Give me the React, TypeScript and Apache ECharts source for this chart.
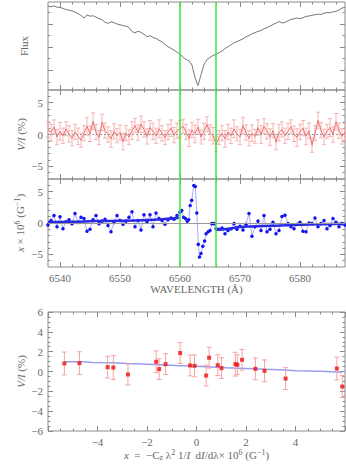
import React, { useEffect, useRef } from 'react';
import * as echarts from 'echarts';

// ---- wavelength sampling (Å) ----
const LAMBDA_START = 6538.0;
const LAMBDA_STEP = 0.5;
const LAMBDA_MIN = 6538;
const LAMBDA_MAX = 6587.5;
const greenLines = [6560, 6566];

// ---- panel 1: flux (6538.0 ... 6587.5, step 0.5) ----
const flux = [
  0.955, 0.950, 0.958, 0.946, 0.944, 0.936, 0.925, 0.920, 0.914, 0.903,
  0.890, 0.875, 0.852, 0.880, 0.868, 0.872, 0.860, 0.848, 0.838, 0.815,
  0.806, 0.820, 0.812, 0.800, 0.795, 0.786, 0.782, 0.770, 0.735, 0.724,
  0.738, 0.728, 0.712, 0.690, 0.700, 0.684, 0.676, 0.660, 0.646, 0.622,
  0.604, 0.590, 0.574, 0.556, 0.540, 0.512, 0.494, 0.482, 0.445, 0.335,
  0.268, 0.360, 0.450, 0.492, 0.512, 0.528, 0.538, 0.552, 0.566, 0.588,
  0.604, 0.620, 0.638, 0.648, 0.660, 0.672, 0.690, 0.700, 0.716, 0.725,
  0.738, 0.742, 0.760, 0.768, 0.782, 0.796, 0.808, 0.822, 0.810, 0.814,
  0.828, 0.840, 0.846, 0.852, 0.848, 0.854, 0.866, 0.870, 0.876, 0.880,
  0.886, 0.882, 0.894, 0.900, 0.898, 0.906, 0.910, 0.922, 0.938, 0.946,
];

// ---- panel 2: V/I (%) with errors (same sampling) ----
const stokesV = [
  0.8, 0.3, 1.2, -0.4, 0.5, -0.2, 0.9, 0.1, -0.6, 0.4,
  -0.3, -0.9, 0.2, 1.3, 0.1, 2.1, 0.4, -0.5, 1.9, 0.6,
  0.0, -0.7, 0.5, -0.2, 0.3, -1.1, 0.2, -0.4, 0.6, 1.4,
  0.3, 1.6, 0.8, -0.3, 1.1, 0.5, -0.2, 0.9, 0.2, -0.5,
  0.4, 1.0, -0.1, 0.6, 0.9, 1.3, 0.4, -0.6, 0.7, 0.1,
  1.2, -0.4, 0.5, 1.6, 0.3, -0.2, -1.5, -0.5, 0.2, -0.7,
  0.4, -0.2, 0.9, 0.1, -0.4, 1.4, 0.3, -0.6, 0.2, -0.3,
  1.1, 0.0, 1.3, 0.5, -0.4, 0.6, -1.2, 0.3, 0.8, -0.2,
  0.5, 1.2, 0.1, -0.5, 0.4, 1.0, -0.3, 0.6, -1.7, 0.2,
  2.2, 0.7, -0.4, 0.5, 1.1, 0.0, 2.0, 0.6, -0.3, 0.4,
];
const stokesVErr = [
  1.2, 1.3, 1.1, 1.2, 1.4, 1.2, 1.1, 1.3, 1.2, 1.2,
  1.3, 1.1, 1.2, 1.4, 1.2, 1.3, 1.2, 1.1, 1.3, 1.2,
  1.2, 1.3, 1.2, 1.1, 1.2, 1.3, 1.2, 1.2, 1.4, 1.1,
  1.2, 1.3, 1.2, 1.2, 1.1, 1.3, 1.2, 1.4, 1.2, 1.1,
  1.2, 1.3, 1.2, 1.2, 1.3, 1.1, 1.2, 1.3, 1.2, 1.4,
  1.2, 1.1, 1.3, 1.2, 1.2, 1.3, 1.2, 1.1, 1.2, 1.3,
  1.2, 1.2, 1.4, 1.1, 1.2, 1.3, 1.2, 1.2, 1.3, 1.1,
  1.2, 1.4, 1.2, 1.2, 1.3, 1.1, 1.2, 1.3, 1.2, 1.2,
  1.3, 1.1, 1.2, 1.4, 1.2, 1.2, 1.3, 1.2, 1.1, 1.2,
  1.3, 1.2, 1.2, 1.1, 1.4, 1.2, 1.3, 1.2, 1.2, 1.3,
];

// ---- panel 3: x × 10^6 (G^-1) ----
const xLeftStart = 6538.0; // step 0.5, up to 6559.5
const xLeft = [
  -0.3, 0.4, 1.2, -0.6, 1.0, -0.9, 0.2, 0.5, -0.1, 1.5,
  0.1, 0.9, 0.7, -1.3, -1.0, 0.5, 1.2, -0.1, 0.3, 0.6,
  -0.4, -1.4, 0.1, 1.2, 0.4, -0.2, 0.3, 0.9, 1.8, -0.6,
  0.4, -1.1, 1.3, 0.2, 1.3, -0.6, 1.6, 0.7, 0.4, -0.2,
  0.5, 0.8, 0.6, 1.2,
];
const coreLambda = [
  6560.0, 6560.3, 6560.6, 6560.9, 6561.2, 6561.45, 6561.7, 6561.95, 6562.3, 6562.55,
  6562.8, 6563.05, 6563.25, 6563.5, 6563.8, 6564.1, 6564.35, 6564.7, 6565.0, 6565.3, 6565.7,
];
const coreX = [
  1.7, 2.0, 0.9, 0.7, 0.3, 0.5, 2.8, 3.6, 5.95, 5.8,
  1.6, -3.4, -5.4, -4.85, -3.7, -2.85, -1.7, -1.4, -1.2, -0.1, -0.1,
];
const xRightStart = 6566.0; // step 0.5, up to 6587.5
const xRight = [
  -0.9, -1.0, -0.8, -1.7, -1.2, -0.9, -0.1, -1.0, -0.5, -1.1,
  -0.2, 1.5, -2.1, -0.6, 0.3, -1.2, 1.2, -1.4, -1.0, 0.1,
  -1.7, -1.2, 1.05, 1.25, -0.1, -0.6, -0.9, -0.2, 0.1, -1.3,
  -1.4, 0.0, -0.1, 0.8, -0.6, -0.1, 0.4, -0.9, -0.4, 0.7,
  0.1, -0.6, -0.1, -0.3,
];
const fitLeftLambda = [6538, 6542, 6546, 6550, 6554, 6557, 6559.8];
const fitLeftX = [0.15, 0.2, 0.3, 0.35, 0.45, 0.6, 0.85];
const fitRightLambda = [6566, 6568, 6570, 6572, 6575, 6579, 6583, 6587.5];
const fitRightX = [-1.1, -0.9, -0.65, -0.55, -0.45, -0.3, -0.2, -0.1];

// ---- panel 4: V/I vs x ----
const corrX = [-5.34, -4.73, -3.59, -3.36, -2.77, -1.63, -1.51, -1.25, -0.66, -0.26, -0.08, 0.39, 0.51, 0.86, 1.01, 1.57, 1.65, 1.84, 2.38, 2.75, 3.6, 5.67, 5.89];
const corrV = [0.81, 0.84, 0.44, 0.40, -0.30, 0.98, 0.24, 0.74, 1.86, 0.61, 0.57, -0.41, 1.39, 0.64, 0.34, 0.74, 0.68, 1.18, 0.27, 0.07, -0.71, 0.30, -1.52];
const corrErr = [1.15, 1.15, 1.1, 1.2, 1.05, 1.1, 1.05, 1.05, 1.05, 1.05, 1.1, 1.05, 1.05, 1.05, 1.05, 1.2, 1.0, 1.05, 1.1, 1.1, 1.1, 1.15, 1.1];
const trendX = [-5.34, -4.6, -4.2, -3.4, -2.8, -2.2, -1.5, -0.8, 0, 0.6, 1.2, 2.0, 2.8, 3.6, 4.0, 5.0, 5.89];
const trendV = [0.98, 0.98, 0.92, 0.88, 0.80, 0.75, 0.68, 0.60, 0.52, 0.45, 0.38, 0.30, 0.22, 0.15, 0.07, 0.02, -0.08];

// ---- ticks ----
const waveMajor = [6540, 6550, 6560, 6570, 6580];
const waveMinor = [6542, 6544, 6546, 6548, 6552, 6554, 6556, 6558, 6562, 6564, 6566, 6568, 6572, 6574, 6576, 6578, 6582, 6584, 6586];
const waveLabels = [6540, 6550, 6560, 6570, 6580];
const fluxMajor = [0.4, 0.6, 0.8];
const fluxMinor = [0.3, 0.5, 0.7, 0.9];
const panelMajor = [-5, 0, 5];
const panelMinor = [-6, -4, -3, -2, -1, 1, 2, 3, 4, 6];
const panelLabels = [-5, 0, 5];
const corrXMajor = [-6, -4, -2, 0, 2, 4, 6];
const corrXLabels = [-4, -2, 0, 2, 4];
const corrMinor = [-5.5, -5, -4.5, -3.5, -3, -2.5, -1.5, -1, -0.5, 0.5, 1, 1.5, 2.5, 3, 3.5, 4.5, 5, 5.5];
const corrYMajor = [-6, -4, -2, 0, 2, 4, 6];
const corrYLabels = [-6, -4, -2, 0, 2, 4, 6];

const FONT = 'Liberation Serif';
const FS = 11;
const TXT = '#666666';
const FRAME = '#8a8a8a';
const GREEN = '#38e838';

const fmt = (v: number) => (v < 0 ? '\u2212' + Math.abs(v) : String(v));

const rich = {
  i: { fontStyle: 'italic', fontFamily: FONT, fontSize: FS, color: TXT },
  sup: { fontFamily: FONT, fontSize: 8, color: TXT, verticalAlign: 'top', padding: [0, 0, 5, 0] },
  sub: { fontFamily: FONT, fontSize: 8, color: TXT, verticalAlign: 'bottom', padding: [5, 0, 0, 0] },
};

type Spec = {
  min: number; max: number; major: number[]; minor: number[];
  labels?: number[]; name?: string; nameGap?: number;
};

function addAxes(list: any[], grid: number, dim: 'x' | 'y', spec: Spec): number {
  const p1 = dim === 'x' ? 'bottom' : 'left';
  const p2 = dim === 'x' ? 'top' : 'right';
  const make = (pos: string, ticks: number[], len: number, withLabels: boolean) => ({
    type: 'value', gridIndex: grid, position: pos, min: spec.min, max: spec.max,
    axisLine: { show: false, onZero: false }, splitLine: { show: false }, minorTick: { show: false },
    axisTick: { show: true, inside: true, length: len, customValues: ticks, lineStyle: { color: FRAME, width: 1 } },
    axisLabel: withLabels && spec.labels
      ? { show: true, customValues: spec.labels, formatter: fmt, color: TXT, fontFamily: FONT, fontSize: FS, margin: 5 }
      : { show: false },
  });
  const idx = list.length;
  const main: any = make(p1, spec.major, 5, true);
  if (spec.name) {
    Object.assign(main, {
      name: spec.name, nameLocation: 'middle', nameGap: spec.nameGap ?? 20, nameMoveOverlap: false,
      nameTextStyle: { color: TXT, fontFamily: FONT, fontSize: FS, rich },
    });
  }
  list.push(main, make(p1, spec.minor, 2.5, false), make(p2, spec.major, 5, false), make(p2, spec.minor, 2.5, false));
  return idx;
}

function errRenderer(color: string, cap: number) {
  return (_params: any, api: any) => {
    const x = api.value(0);
    const lo = api.value(1);
    const hi = api.value(2);
    const a = api.coord([x, lo]);
    const b = api.coord([x, hi]);
    const style = { stroke: color, lineWidth: 1, fill: 'none' };
    return {
      type: 'group',
      children: [
        { type: 'line', shape: { x1: a[0], y1: a[1], x2: b[0], y2: b[1] }, style },
        { type: 'line', shape: { x1: a[0] - cap, y1: a[1], x2: a[0] + cap, y2: a[1] }, style },
        { type: 'line', shape: { x1: b[0] - cap, y1: b[1], x2: b[0] + cap, y2: b[1] }, style },
      ],
    };
  };
}

function buildOption() {
  const xAxes: any[] = [];
  const yAxes: any[] = [];
  const grids = [
    { top: 2, height: 88 },
    { top: 90, height: 89 },
    { top: 179, height: 88 },
    { top: 312, height: 119 },
  ].map((g) => ({ ...g, left: 48, right: 1, show: true, borderColor: FRAME, borderWidth: 1, backgroundColor: 'transparent' }));

  const x0 = addAxes(xAxes, 0, 'x', { min: LAMBDA_MIN, max: LAMBDA_MAX, major: waveMajor, minor: waveMinor });
  const y0 = addAxes(yAxes, 0, 'y', { min: 0.229, max: 0.991, major: fluxMajor, minor: fluxMinor, name: 'Flux', nameGap: 19 });
  const x1 = addAxes(xAxes, 1, 'x', { min: LAMBDA_MIN, max: LAMBDA_MAX, major: waveMajor, minor: waveMinor });
  const y1 = addAxes(yAxes, 1, 'y', { min: -7, max: 7, major: panelMajor, minor: panelMinor, labels: panelLabels, name: '{i|V/I} (%)', nameGap: 22 });
  const x2 = addAxes(xAxes, 2, 'x', { min: LAMBDA_MIN, max: LAMBDA_MAX, major: waveMajor, minor: waveMinor, labels: waveLabels, name: 'WAVELENGTH (Å)', nameGap: 16 });
  const y2 = addAxes(yAxes, 2, 'y', { min: -7, max: 7, major: panelMajor, minor: panelMinor, labels: panelLabels, name: '{i|x} × 10{sup|6} (G{sup|\u22121})', nameGap: 22 });
  const x3 = addAxes(xAxes, 3, 'x', { min: -6, max: 6, major: corrXMajor, minor: corrMinor, labels: corrXLabels, name: '{i|x}  =  \u2212C{sub|z} λ{sup|2} 1/{i|I}  d{i|I}/dλ× 10{sup|6} (G{sup|\u22121})', nameGap: 17 });
  const y3 = addAxes(yAxes, 3, 'y', { min: -6, max: 6, major: corrYMajor, minor: corrMinor, labels: corrYLabels, name: '{i|V/I} (%)', nameGap: 22 });

  const greenMark = (extra: any[] = []) => ({
    silent: true, symbol: 'none', label: { show: false },
    lineStyle: { color: GREEN, width: 1.5, type: 'solid' },
    data: [...greenLines.map((v) => ({ xAxis: v })), ...extra],
  });

  const fluxData = flux.map((v, i) => [LAMBDA_START + i * LAMBDA_STEP, v]);
  const vData = stokesV.map((v, i) => [LAMBDA_START + i * LAMBDA_STEP, v]);
  const vErrData = stokesV.map((v, i) => [LAMBDA_START + i * LAMBDA_STEP, v - stokesVErr[i], v + stokesVErr[i]]);
  const xData = [
    ...xLeft.map((v, i) => [xLeftStart + i * LAMBDA_STEP, v]),
    ...coreLambda.map((l, i) => [l, coreX[i]]),
    ...xRight.map((v, i) => [xRightStart + i * LAMBDA_STEP, v]),
  ];

  const series: any[] = [
    {
      type: 'line', xAxisIndex: x0, yAxisIndex: y0, data: fluxData, showSymbol: false,
      lineStyle: { color: '#7a7a7a', width: 1 }, silent: true,
      markLine: greenMark(),
    },
    {
      type: 'custom', xAxisIndex: x1, yAxisIndex: y1, data: vErrData,
      encode: { x: 0, y: [1, 2] }, renderItem: errRenderer('#f7b3b3', 2), silent: true, z: 1,
    },
    {
      type: 'line', xAxisIndex: x1, yAxisIndex: y1, data: vData, showSymbol: false,
      lineStyle: { color: '#f07070', width: 1 }, silent: true, z: 2,
      markLine: greenMark([{ yAxis: 0, lineStyle: { color: '#9a9a9a', width: 1, type: [2, 2] } }]),
    },
    {
      type: 'line', xAxisIndex: x2, yAxisIndex: y2, data: xData, showSymbol: true, symbol: 'circle', symbolSize: 3.5,
      itemStyle: { color: '#1414f0' }, lineStyle: { color: '#a9aef8', width: 1 }, silent: true, z: 3,
      markLine: greenMark([{ yAxis: 0, lineStyle: { color: '#9a9a9a', width: 1, type: 'solid' } }]),
    },
    {
      type: 'line', xAxisIndex: x2, yAxisIndex: y2, data: fitLeftLambda.map((l, i) => [l, fitLeftX[i]]),
      showSymbol: false, smooth: true, lineStyle: { color: '#2a2ae6', width: 2.5 }, silent: true, z: 4,
    },
    {
      type: 'line', xAxisIndex: x2, yAxisIndex: y2, data: fitRightLambda.map((l, i) => [l, fitRightX[i]]),
      showSymbol: false, smooth: true, lineStyle: { color: '#2a2ae6', width: 2.5 }, silent: true, z: 4,
    },
    {
      type: 'line', xAxisIndex: x3, yAxisIndex: y3, data: trendX.map((x, i) => [x, trendV[i]]),
      showSymbol: false, lineStyle: { color: '#9a9cf0', width: 1.5 }, silent: true, z: 1,
    },
    {
      type: 'custom', xAxisIndex: x3, yAxisIndex: y3,
      data: corrX.map((x, i) => [x, corrV[i] - corrErr[i], corrV[i] + corrErr[i]]),
      encode: { x: 0, y: [1, 2] }, renderItem: errRenderer('#f5a3a3', 2.5), silent: true, z: 2,
    },
    {
      type: 'scatter', xAxisIndex: x3, yAxisIndex: y3, data: corrX.map((x, i) => [x, corrV[i]]),
      symbol: 'rect', symbolSize: 4, itemStyle: { color: '#ee1010' }, silent: true, z: 3,
    },
  ];

  return {
    animation: false,
    backgroundColor: '#ffffff',
    textStyle: { fontFamily: FONT },
    grid: grids,
    xAxis: xAxes,
    yAxis: yAxes,
    series,
  };
}

export default function App() {
  const ref = useRef<HTMLDivElement>(null);
  useEffect(() => {
    const chart = echarts.init(ref.current!, null, { renderer: 'svg' });
    chart.setOption(buildOption() as any);
    return () => chart.dispose();
  }, []);
  return <div ref={ref} style={{ position: 'absolute', left: 0, top: 0, width: 346, height: 468 }} />;
}
